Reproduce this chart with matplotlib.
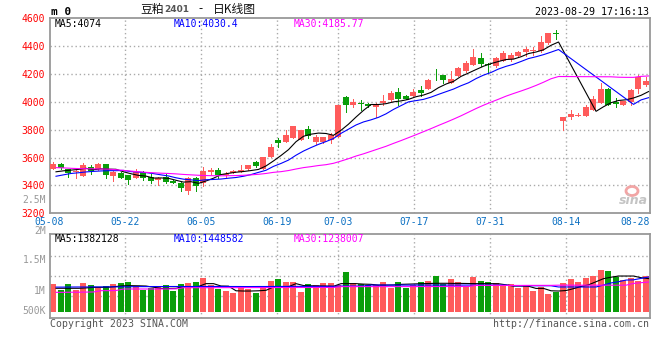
import matplotlib
matplotlib.use("Agg")
import matplotlib.pyplot as plt
from matplotlib.patches import Ellipse
import numpy as np

# ---- data (80 trading days, 2023-05-08 .. 2023-08-29) ----
tick_idx = [0, 10, 20, 30, 38, 48, 58, 68, 78]
tick_labels = ['05-08', '05-22', '06-05', '06-19', '07-03', '07-17', '07-31', '08-14', '08-28']

opens = [3521, 3552, 3517, 3497, 3469, 3535, 3517, 3552, 3469, 3486,
         3476, 3452, 3497, 3464, 3438, 3464, 3433, 3421, 3362, 3457,
         3414, 3500, 3512, 3476, 3488, 3500, 3516, 3566, 3521, 3607,
         3726, 3712, 3740, 3726, 3802, 3712, 3712, 3724, 3750, 4038,
         3976, 3993, 3985, 3962, 3993, 4012, 4069, 4040, 4045, 4088,
         4095, 4195, 4190, 4136, 4188, 4219, 4266, 4314, 4273, 4255,
         4297, 4307, 4326, 4355, 4362, 4362, 4421, 4493, 3862, 3893,
         3900, 3902, 3945, 3993, 4095, 3997, 3981, 4000, 4093, 4119]
highs = [3571, 3559, 3519, 3517, 3562, 3545, 3564, 3555, 3502, 3500,
         3478, 3521, 3505, 3481, 3460, 3481, 3438, 3424, 3464, 3460,
         3533, 3528, 3523, 3497, 3510, 3545, 3550, 3576, 3607, 3695,
         3738, 3797, 3826, 3800, 3826, 3759, 3750, 3778, 3980, 4040,
         4021, 4012, 3993, 3993, 4052, 4076, 4100, 4048, 4095, 4116,
         4162, 4238, 4192, 4219, 4250, 4290, 4381, 4350, 4278, 4319,
         4362, 4350, 4362, 4393, 4393, 4476, 4495, 4516, 3893, 3940,
         3921, 3981, 4040, 4136, 4098, 4028, 4009, 4095, 4195, 4178]
lows = [3515, 3521, 3464, 3455, 3466, 3481, 3514, 3457, 3433, 3450,
        3409, 3450, 3440, 3421, 3405, 3421, 3418, 3359, 3340, 3362,
        3397, 3485, 3457, 3462, 3486, 3498, 3514, 3530, 3519, 3604,
        3678, 3710, 3738, 3724, 3743, 3695, 3707, 3707, 3745, 3926,
        3962, 3940, 3962, 3893, 3981, 4005, 3981, 4020, 4040, 4040,
        4090, 4155, 4136, 4134, 4185, 4215, 4263, 4255, 4207, 4250,
        4290, 4290, 4324, 4326, 4338, 4360, 4419, 4450, 3795, 3874,
        3895, 3900, 3940, 3990, 3978, 3964, 3976, 3981, 4064, 4117]
closes = [3552, 3526, 3486, 3505, 3545, 3505, 3555, 3476, 3500, 3452,
          3438, 3493, 3450, 3431, 3457, 3426, 3421, 3381, 3450, 3397,
          3504, 3512, 3476, 3485, 3504, 3512, 3545, 3540, 3604, 3678,
          3705, 3759, 3824, 3797, 3755, 3745, 3745, 3759, 3976, 3976,
          4000, 3986, 3969, 3976, 4004, 4064, 4021, 4024, 4071, 4064,
          4159, 4190, 4155, 4167, 4243, 4278, 4319, 4271, 4266, 4314,
          4350, 4333, 4355, 4381, 4369, 4433, 4493, 4488, 3890, 3914,
          3907, 3964, 4024, 4095, 3981, 3988, 4005, 4083, 4178, 4152]

nan = float('nan')
ma5 = [3498, 3505, 3510, 3515, 3523, 3513, 3519, 3517, 3516, 3498,
       3484, 3472, 3467, 3453, 3454, 3451, 3437, 3424, 3427, 3415,
       3432, 3452, 3478, 3487, 3495, 3500, 3507, 3515, 3540, 3576,
       3615, 3657, 3714, 3753, 3768, 3776, 3773, 3760, 3796, 3840,
       3891, 3939, 3981, 3981, 3987, 4000, 4007, 4018, 4037, 4049,
       4068, 4102, 4128, 4147, 4183, 4207, 4232, 4256, 4275, 4290,
       4304, 4307, 4324, 4347, 4358, 4374, 4406, 4430, nan, nan,
       nan, nan, 3932, 3965, 3994, 4010, 4015, 4028, 4047, 4074]
ma10 = [3466, 3476, 3486, 3491, 3497, 3501, 3504, 3506, 3506, 3508,
        3499, 3496, 3492, 3485, 3476, 3468, 3455, 3445, 3440, 3435,
        3441, 3443, 3446, 3452, 3457, 3466, 3478, 3494, 3509, 3537,
        3558, 3582, 3617, 3647, 3672, 3695, 3715, 3737, 3774, 3804,
        3834, 3856, 3871, 3889, 3914, 3946, 3973, 4000, 4009, 4018,
        4034, 4054, 4073, 4092, 4116, 4137, 4167, 4192, 4211, 4236,
        4255, 4270, 4290, 4311, 4324, 4339, 4357, 4376, nan, nan,
        nan, nan, nan, nan, nan, nan, nan, 3982, 4014, 4030]
ma30 = [3528, 3526, 3523, 3521, 3520, 3519, 3518, 3517, 3513, 3508,
        3503, 3498, 3494, 3491, 3488, 3486, 3483, 3479, 3476, 3473,
        3471, 3470, 3469, 3470, 3471, 3473, 3476, 3480, 3486, 3494,
        3499, 3507, 3518, 3528, 3535, 3543, 3549, 3559, 3575, 3592,
        3611, 3627, 3645, 3663, 3681, 3702, 3722, 3743, 3764, 3786,
        3808, 3831, 3853, 3876, 3900, 3926, 3952, 3976, 3998, 4019,
        4041, 4060, 4078, 4097, 4118, 4141, 4166, 4182, nan, nan,
        nan, nan, nan, nan, 4180, 4177, 4176, 4176, 4183, 4186]

# volume in thousands of lots
vol_k = [1155, 903, 1155, 903, 1197, 1113, 1029, 1071, 1155, 1197,
         1239, 1071, 903, 987, 1071, 1113, 861, 1155, 1197, 1239,
         1421, 1113, 945, 861, 777, 1029, 945, 777, 1029, 1281,
         1365, 1239, 1239, 819, 1155, 1113, 1197, 1197, 1113, 1659,
         1197, 1155, 1113, 1113, 1239, 987, 1239, 987, 1113, 1239,
         1281, 1491, 1155, 1365, 1239, 1029, 1449, 1281, 1239, 1197,
         1071, 1155, 987, 1113, 861, 1029, 735, 819, 1197, 1365,
         1239, 1407, 1491, 1743, 1701, 1449, 1323, 1407, 1281, 1491]
vol_ma5 = [975, 975, 975, 975, 990, 1015, 1015, 1020, 1050, 1080,
           1085, 1080, 1070, 1020, 970, 970, 975, 1040, 1040, 1050,
           1170, 1170, 1070, 1065, 870, 860, 860, 870, 890, 1030,
           1030, 1040, 1170, 1090, 1080, 1075, 1070, 1060, 1170, 1170,
           1170, 1150, 1140, 1110, 1110, 1115, 1140, 1150, 1160, 1170,
           1180, 1185, 1185, 1180, 1180, 1175, 1170, 1170, 1170, 1165,
           1120, 1070, 1070, 1060, 970, 970, 870, 860, 880, 960,
           1050, 1120, 1250, 1380, 1440, 1490, 1490, 1490, 1420, 1382]
vol_ma10 = [1025, 1025, 1028, 1030, 1030, 1032, 1032, 1035, 1035, 1035,
            1040, 1045, 1045, 1048, 1048, 1050, 1050, 1050, 1050, 1050,
            1052, 1052, 1052, 1050, 1050, 1048, 1048, 1050, 1050, 1052,
            1052, 1055, 1055, 1055, 1055, 1055, 1055, 1058, 1070, 1070,
            1070, 1070, 1110, 1110, 1110, 1110, 1110, 1110, 1110, 1110,
            1110, 1110, 1110, 1110, 1110, 1110, 1110, 1110, 1110, 1110,
            1110, 1080, 1080, 1080, 1080, 1080, 1080, 1030, 1030, 1030,
            1030, 1030, 1030, 1110, 1200, 1250, 1320, 1330, 1390, 1449]
vol_ma30 = [805, 805, 810, 810, 815, 820, 875, 875, 880, 945,
            945, 945, 945, 945, 948, 948, 950, 1000, 1000, 1000,
            1000, 1000, 1002, 1002, 1002, 1004, 1004, 1004, 1005, 1005,
            1006, 1006, 1008, 1008, 1008, 1010, 1010, 1010, 1045, 1045,
            1045, 1045, 1045, 1045, 1045, 1045, 1046, 1046, 1046, 1048,
            1048, 1048, 1050, 1050, 1050, 1050, 1095, 1095, 1095, 1095,
            1095, 1095, 1095, 1097, 1097, 1098, 1098, 1105, 1105, 1105,
            1105, 1105, 1105, 1105, 1105, 1105, 1105, 1180, 1210, 1238]

# ---- styling ----
W, H = 660, 360
RED = '#ff5b5b'
GREEN = '#0a9e0a'
GRID = '#aaaaaa'
BORDER = '#999999'
PX = 0.72  # one pixel in points at 100 dpi
MONO = ['DejaVu Sans Mono']
CJK = ['Noto Sans CJK SC', 'DejaVu Sans']
plt.rcParams['font.family'] = MONO


def ftext(px, py, s, **kw):
    """Place text using pixel coordinates measured from the top-left."""
    kw.setdefault('va', 'center')
    kw.setdefault('fontsize', 7)
    fig.text(px / W, 1 - py / H, s, **kw)


def draw_ma(a, x, vals, color):
    v = np.array(vals, dtype=float)
    m = ~np.isnan(v)
    a.plot(x[m] + 0.4, v[m], color=color, lw=0.8, antialiased=True,
           solid_joinstyle='miter', zorder=4)


fig = plt.figure(figsize=(W / 100, H / 100), dpi=100)
fig.patch.set_facecolor('white')

# main (price) panel: pixels x 50..649.5, y 18.3..213.3
ax = fig.add_axes([50 / W, 1 - 213.3 / H, 599.5 / W, 195 / H])
# volume panel: pixels y 234.3..318.3
axv = fig.add_axes([50 / W, 1 - 318.3 / H, 599.5 / W, 84 / H])

x = np.arange(len(closes))
o = np.array(opens, float)
c = np.array(closes, float)
up = c >= o
colors = [RED if u else GREEN for u in up]

# gridlines sit slightly off the candle grid in the original (7.6 px vs 7.5 px per day)
grid_x = [d * 7.6 / 7.5 - 0.53 for d in tick_idx[1:-1]]

for a in (ax, axv):
    for gx in grid_x:
        a.axvline(gx, color=GRID, lw=1, ls=(0, (1, 2)), zorder=0)
    for s in a.spines.values():
        s.set_color(BORDER)
        s.set_linewidth(1.3)
    a.set_xlim(-0.4, 79.53)
    a.set_xticks([])

for p in [3400, 3600, 3800, 4000, 4200, 4400]:
    ax.axhline(p, color=GRID, lw=1, ls=(0, (1, 2)), zorder=0)

# candles
ax.vlines(x, lows, highs, colors=colors, lw=PX, zorder=2, antialiased=False)
body = np.maximum(np.abs(c - o), 6)
ax.bar(x, body, bottom=np.minimum(o, c), width=0.8, color=colors,
       zorder=3, antialiased=False)

draw_ma(ax, x, ma5, 'black')
draw_ma(ax, x, ma10, '#0000ff')
draw_ma(ax, x, ma30, '#ff00ff')

ax.set_ylim(3200, 4600)
ax.set_yticks([3200, 3400, 3600, 3800, 4000, 4200, 4400, 4600])
ax.tick_params(axis='y', length=0, pad=3.5, labelcolor='#ff0000', labelsize=7)

# date labels
for d, lab in zip(tick_idx, tick_labels):
    if d == tick_idx[-1]:
        ax.text(1.0, -0.043, lab, transform=ax.transAxes, ha='right', va='center',
                color='#0a6fc2', fontsize=7)
    else:
        ax.text(d * 7.6 / 7.5 - 0.53, -0.043, lab, transform=ax.get_xaxis_transform(),
                ha='center', va='center', color='#0a6fc2', fontsize=7, clip_on=False)

# volume
axv.bar(x, vol_k, width=0.8, color=colors, zorder=2, antialiased=False)
draw_ma(axv, x, vol_ma5, 'black')
draw_ma(axv, x, vol_ma10, '#0000ff')
draw_ma(axv, x, vol_ma30, '#ff00ff')
axv.set_ylim(-285.6, 3242.4)
axv.set_yticks([])
for gv in [663.6, 1503.6, 2343.6]:
    axv.axhline(gv, color=GRID, lw=1, ls=(0, (1, 2)), zorder=0)

# volume axis labels (placed as in the original, not on true values)
for py, lab in [(200, '2.5M'), (231, '2M'), (260, '1.5M'), (291, '1M'), (311, '500K')]:
    ftext(46, py, lab, ha='right', color='#999999')

# header
ftext(51, 12, 'm 0', fontsize=8, fontweight='bold', color='black')
ftext(140.7, 9, '豆粕', family=CJK, fontsize=8.5, color='#111111')
ftext(164.5, 9.5, '2401', family=['DejaVu Sans'], fontsize=6.5,
      fontweight='bold', color='#555555')
ftext(200.5, 9, '-', family=CJK, fontsize=8.5, ha='center', color='#111111')
ftext(213.3, 9, '日K线图', family=CJK, fontsize=8.5, color='#111111')
ftext(649, 12, '2023-08-29 17:16:13', ha='right', fontsize=7.2, color='black')

ftext(54.3, 24, 'MA5:4074', color='black')
ftext(174, 24, 'MA10:4030.4', color='#0000ff')
ftext(294, 24, 'MA30:4185.77', color='#ff00ff')
ftext(54.3, 238.5, 'MA5:1382128', color='black')
ftext(174, 238.5, 'MA10:1448582', color='#0000ff')
ftext(294, 238.5, 'MA30:1238007', color='#ff00ff')

ftext(50, 324, 'Copyright 2023 SINA.COM', color='#555555', fontsize=7.1)
ftext(649, 324, 'http://finance.sina.com.cn', ha='right', color='#555555', fontsize=7.1)

# sina watermark
fig.patches.append(Ellipse((632 / W, 1 - 191 / H), 12 / W, 9 / H, transform=fig.transFigure,
                           facecolor='none', edgecolor='#f2a5a5', lw=2))
ftext(633, 201, 'sina', ha='center', family=['DejaVu Sans'], fontsize=9,
      fontstyle='italic', fontweight='bold', color='#c4c4c4')

fig.savefig('out.png', dpi=100)
